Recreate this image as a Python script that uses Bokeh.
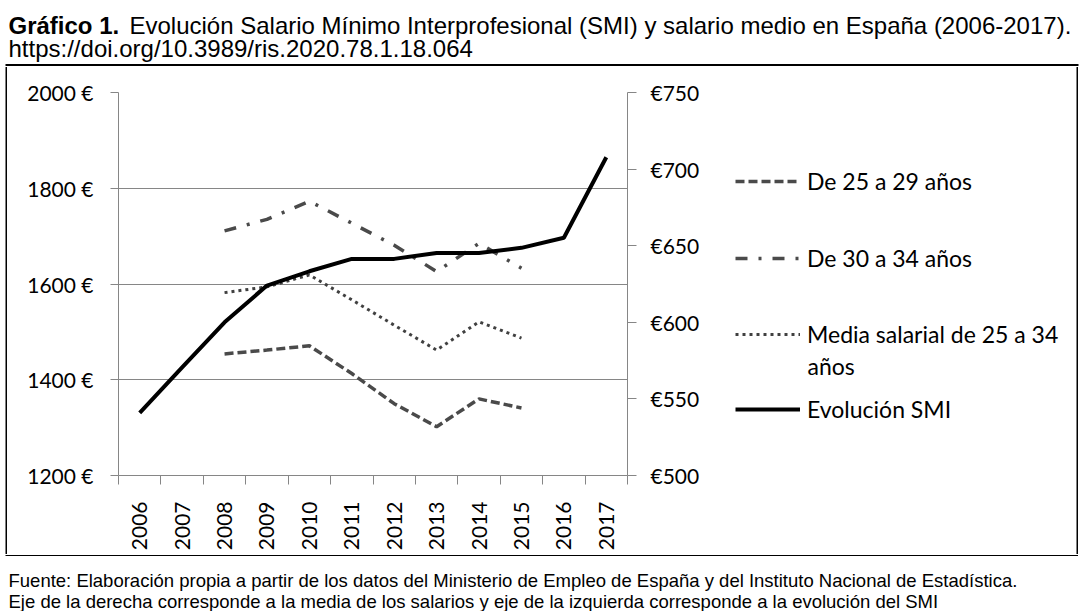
from bokeh.plotting import figure
from bokeh.layouts import column, row
from bokeh.models import (Range1d, LinearAxis, FixedTicker, CustomJSTickFormatter,
                          Label, Legend, LegendItem, BoxAnnotation)
from bokeh.embed import file_html
from bokeh.resources import INLINE

# ---------------- data ----------------
years = ["2006", "2007", "2008", "2009", "2010", "2011",
         "2012", "2013", "2014", "2015", "2016", "2017"]
smi = [540.90, 570.60, 600.00, 624.00, 633.30, 641.40,
       641.40, 645.30, 645.30, 648.60, 655.20, 707.70]
years_sal = ["2008", "2009", "2010", "2011", "2012", "2013", "2014", "2015"]
sal_25_29 = [1454, 1462, 1471, 1413, 1350, 1302, 1360, 1341]
sal_30_34 = [1711, 1735, 1773, 1727, 1681, 1626, 1685, 1633]
sal_media = [1582, 1594, 1619, 1567, 1514, 1462, 1521, 1487]
left_ticks = [1200, 1400, 1600, 1800, 2000]
right_ticks = [500, 550, 600, 650, 700, 750]
series_names = ["De 25 a 29 a\u00f1os", "De 30 a 34 a\u00f1os",
                "Media salarial de 25 a 34", "Evoluci\u00f3n SMI"]

x_smi = [years.index(y) + 0.5 for y in years]
x_sal = [years.index(y) + 0.5 for y in years_sal]

# ---------------- geometry (page px) ----------------
TOP_H, MID_H, BOT_H = 66, 488, 57
LS_W, MAIN_W, LEG_W = 12, 698, 373
FL, FR, FT, FB = 118, 627, 92, 475
AX = "#868686"
FONT = "Lato"

STY = [
    dict(line_color="#4a4a4a", line_width=3.5, line_dash="9 4"),
    dict(line_color="#4a4a4a", line_width=3.5, line_dash="12 11 3 11"),
    dict(line_color="#404040", line_width=3, line_dash="3 4"),
    dict(line_color="black", line_width=4),
]


def blank(w, h):
    f = figure(width=w, height=h, output_backend="svg", toolbar_location=None,
               x_axis_type=None, y_axis_type=None, frame_align=False,
               x_range=Range1d(0, 1), y_range=Range1d(0, 1), min_border=0)
    f.outline_line_color = None
    f.background_fill_color = "white"
    f.border_fill_color = "white"
    return f


def label(f, fx, fy, fh, t, px, py, size, font="Liberation Sans", bold=False,
          baseline="alphabetic"):
    f.add_layout(Label(x=px - fx, y=fh - (py - fy), x_units="screen", y_units="screen",
                       text=t, text_font=font, text_font_size=size,
                       text_font_style="bold" if bold else "normal",
                       text_color="black", text_baseline=baseline))


def edge(f, fx, fy, fh, x0, x1, y0, y1):
    f.add_layout(BoxAnnotation(left=x0 - fx, right=x1 - fx,
                               top=fh - (y0 - fy), bottom=fh - (y1 - fy),
                               left_units="screen", right_units="screen",
                               top_units="screen", bottom_units="screen",
                               fill_color="black", fill_alpha=1, line_alpha=0))


# ---------------- title ----------------
tf = blank(1083, TOP_H)
label(tf, 0, 0, TOP_H, "Gr\u00e1fico 1.", 8, 25, "24px", bold=True)
label(tf, 0, 0, TOP_H,
      "Evoluci\u00f3n Salario M\u00ednimo Interprofesional (SMI) y salario medio en Espa\u00f1a (2006-2017).",
      129, 25, "24px")
label(tf, 0, 0, TOP_H, "https://doi.org/10.3989/ris.2020.78.1.18.064", 8, 48, "24px")
edge(tf, 0, 0, TOP_H, 5, 1078, 63.5, 65.5)

# ---------------- left strip (box edge) ----------------
lf = blank(LS_W, MID_H)
edge(lf, 0, TOP_H, MID_H, 5, 6.5, TOP_H + 0.5, TOP_H + MID_H - 0.5)

# ---------------- main chart ----------------
p = figure(width=MAIN_W, height=MID_H, output_backend="svg", toolbar_location=None,
           x_range=Range1d(0, len(years)), y_range=Range1d(1200, 2000), frame_align=False,
           min_border_left=FL - LS_W, min_border_right=(LS_W + MAIN_W) - FR,
           min_border_top=FT - TOP_H, min_border_bottom=(TOP_H + MID_H) - FB)
p.outline_line_color = None
p.background_fill_color = "white"
p.border_fill_color = "white"
p.extra_y_ranges = {"smi": Range1d(500, 750)}

xa = p.xaxis[0]
xa.ticker = FixedTicker(ticks=x_smi, minor_ticks=list(range(len(years) + 1)))
xa.formatter = CustomJSTickFormatter(args=dict(years=years),
                                     code="return years[Math.floor(tick)] || ''")
xa.major_label_orientation = 3.14159265 / 2
xa.major_tick_out = 0
xa.major_tick_in = 0
xa.major_tick_line_color = None
xa.minor_tick_out = 9
xa.minor_tick_in = 0
xa.minor_tick_line_color = AX
xa.axis_line_color = AX
xa.major_label_standoff = 17
xa.major_label_text_font = FONT
xa.major_label_text_font_size = "21px"
xa.major_label_text_color = "black"

ya = p.yaxis[0]
ya.ticker = FixedTicker(ticks=left_ticks)
ya.formatter = CustomJSTickFormatter(code="return tick + ' \u20ac'")
ya.major_tick_out = 8
ya.major_tick_in = 0
ya.minor_tick_line_color = None
ya.major_tick_line_color = AX
ya.axis_line_color = AX
ya.major_label_standoff = 17
ya.major_label_text_font = FONT
ya.major_label_text_font_size = "21px"
ya.major_label_text_color = "black"

ra = LinearAxis(y_range_name="smi")
ra.ticker = FixedTicker(ticks=right_ticks)
ra.formatter = CustomJSTickFormatter(code="return '\u20ac' + tick")
ra.major_tick_out = 9
ra.major_tick_in = 0
ra.minor_tick_line_color = None
ra.major_tick_line_color = AX
ra.axis_line_color = AX
ra.major_label_standoff = 14
ra.major_label_text_font = FONT
ra.major_label_text_font_size = "21px"
ra.major_label_text_color = "black"
p.add_layout(ra, "right")

p.xgrid.grid_line_color = None
p.ygrid.ticker = FixedTicker(ticks=left_ticks)
p.ygrid.grid_line_color = AX
p.ygrid.grid_line_width = 1

p.line(x_sal, sal_25_29, **STY[0])
p.line(x_sal, sal_30_34, **STY[1])
p.line(x_sal, sal_media, **STY[2])
p.line(x_smi, smi, y_range_name="smi", **STY[3])

# ---------------- legend panel ----------------
# the legend panel reuses the series (they fall outside its 0..1 ranges, so
# only their legend samples are visible)
gx = LS_W + MAIN_W
gf = blank(LEG_W, MID_H)
IH = 26
centers = [182, 259, 335, 410]
series_xy = [(x_sal, sal_25_29), (x_sal, sal_30_34), (x_sal, sal_media), (x_smi, smi)]
for name, sty, cy, (xs, ys) in zip(series_names, STY, centers, series_xy):
    r = gf.line(xs, ys, **sty)
    leg = Legend(items=[LegendItem(label=name, renderers=[r])],
                 location=(735 - gx, MID_H - (cy - TOP_H) - IH / 2),
                 glyph_width=65, glyph_height=IH, label_height=IH,
                 label_standoff=7, padding=0, margin=0, spacing=0,
                 border_line_color=None, background_fill_alpha=0,
                 label_text_font=FONT, label_text_font_size="23px",
                 label_text_color="black")
    gf.add_layout(leg)
label(gf, gx, TOP_H, MID_H, "a\u00f1os", 807, 365, "23px", font=FONT, baseline="middle")
edge(gf, gx, TOP_H, MID_H, 1076, 1077.5, TOP_H + 0.5, TOP_H + MID_H - 0.5)

# ---------------- footer ----------------
ff = blank(1083, BOT_H)
FY = TOP_H + MID_H
edge(ff, 0, FY, BOT_H, 5, 1077.5, FY + 0.5, FY + 1.5)
label(ff, 0, FY, BOT_H,
      "Fuente: Elaboraci\u00f3n propia a partir de los datos del Ministerio de Empleo de Espa\u00f1a y del Instituto Nacional de Estad\u00edstica.",
      8, 580, "18.5px")
label(ff, 0, FY, BOT_H,
      "Eje de la derecha corresponde a la media de los salarios y eje de la izquierda corresponde a la evoluci\u00f3n del SMI",
      8, 601, "18.5px")

layout = column(tf, row(lf, p, gf), ff)
open("out.html", "w").write(file_html(layout, INLINE))
